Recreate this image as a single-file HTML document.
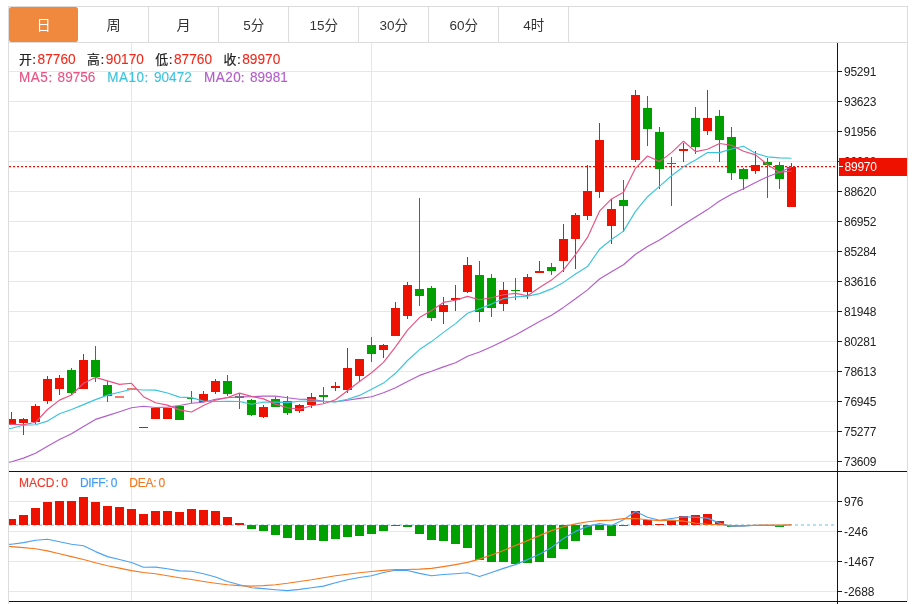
<!DOCTYPE html><html><head><meta charset="utf-8"><title>K线图</title><style>html,body{margin:0;padding:0;background:#fff}svg{display:block}text{font-family:"Liberation Sans","Noto Sans CJK SC",sans-serif}</style></head><body>
<svg width="913" height="604" viewBox="0 0 913 604">
<rect width="913" height="604" fill="#fff"/>
<rect x="8" y="6" width="900" height="1" fill="#dcdcdc"/>
<rect x="8" y="6" width="1" height="598" fill="#dcdcdc"/>
<rect x="907" y="6" width="1" height="595" fill="#dcdcdc"/>
<rect x="9" y="42" width="898" height="1" fill="#dcdcdc"/>
<rect x="9" y="7" width="69" height="35" rx="2.5" fill="#f0883e"/>
<rect x="148" y="7" width="1" height="35" fill="#dcdcdc"/>
<rect x="218" y="7" width="1" height="35" fill="#dcdcdc"/>
<rect x="288" y="7" width="1" height="35" fill="#dcdcdc"/>
<rect x="358" y="7" width="1" height="35" fill="#dcdcdc"/>
<rect x="428" y="7" width="1" height="35" fill="#dcdcdc"/>
<rect x="498" y="7" width="1" height="35" fill="#dcdcdc"/>
<rect x="568" y="7" width="1" height="35" fill="#dcdcdc"/>
<text x="43.7" y="29.8" font-size="14.2" text-anchor="middle" fill="#fff">日</text>
<text x="113.7" y="29.8" font-size="14.2" text-anchor="middle" fill="#333">周</text>
<text x="183.7" y="29.8" font-size="14.2" text-anchor="middle" fill="#333">月</text>
<text x="253.7" y="29.8" font-size="13.5" text-anchor="middle" fill="#333">5分</text>
<text x="323.7" y="29.8" font-size="13.5" text-anchor="middle" fill="#333">15分</text>
<text x="393.7" y="29.8" font-size="13.5" text-anchor="middle" fill="#333">30分</text>
<text x="463.7" y="29.8" font-size="13.5" text-anchor="middle" fill="#333">60分</text>
<text x="533.7" y="29.8" font-size="13.5" text-anchor="middle" fill="#333">4时</text>
<svg x="9" y="43" width="828" height="558" viewBox="9 43 828 558">
<rect x="9" y="71" width="828" height="1" fill="#dfe9f1"/>
<rect x="9" y="101" width="828" height="1" fill="#dfe9f1"/>
<rect x="9" y="131" width="828" height="1" fill="#dfe9f1"/>
<rect x="9" y="161" width="828" height="1" fill="#dfe9f1"/>
<rect x="9" y="191" width="828" height="1" fill="#dfe9f1"/>
<rect x="9" y="221" width="828" height="1" fill="#dfe9f1"/>
<rect x="9" y="251" width="828" height="1" fill="#dfe9f1"/>
<rect x="9" y="281" width="828" height="1" fill="#dfe9f1"/>
<rect x="9" y="311" width="828" height="1" fill="#dfe9f1"/>
<rect x="9" y="341" width="828" height="1" fill="#dfe9f1"/>
<rect x="9" y="371" width="828" height="1" fill="#dfe9f1"/>
<rect x="9" y="401" width="828" height="1" fill="#dfe9f1"/>
<rect x="9" y="431" width="828" height="1" fill="#dfe9f1"/>
<rect x="9" y="461" width="828" height="1" fill="#dfe9f1"/>
<rect x="9" y="501" width="828" height="1" fill="#dfe9f1"/>
<rect x="9" y="531" width="828" height="1" fill="#dfe9f1"/>
<rect x="9" y="561" width="828" height="1" fill="#dfe9f1"/>
<rect x="9" y="591" width="828" height="1" fill="#dfe9f1"/>
<rect x="131" y="43" width="1" height="558" fill="#dfe9f1"/>
<rect x="371" y="43" width="1" height="558" fill="#dfe9f1"/>
<line x1="9" y1="525" x2="836" y2="525" stroke="#b5dff2" stroke-width="2" stroke-dasharray="3 3"/>
<line x1="9" y1="166.6" x2="836" y2="166.6" stroke="#ee1100" stroke-width="1.2" stroke-dasharray="2 2"/>
<rect x="11" y="412" width="1" height="12" fill="#ee1100"/>
<rect x="7" y="419" width="9" height="5" fill="#ee1100"/>
<rect x="23" y="418" width="1" height="17" fill="#ee1100"/>
<rect x="19" y="419" width="9" height="4" fill="#ee1100"/>
<rect x="35" y="404" width="1" height="20" fill="#ee1100"/>
<rect x="31" y="406" width="9" height="16" fill="#ee1100"/>
<rect x="47" y="376" width="1" height="28" fill="#ee1100"/>
<rect x="43" y="379" width="9" height="22" fill="#ee1100"/>
<rect x="59" y="375" width="1" height="20" fill="#ee1100"/>
<rect x="55" y="378" width="9" height="11" fill="#ee1100"/>
<rect x="71" y="368" width="1" height="27" fill="#00a000"/>
<rect x="67" y="370" width="9" height="23" fill="#00a000"/>
<rect x="83" y="354" width="1" height="35" fill="#ee1100"/>
<rect x="79" y="360" width="9" height="29" fill="#ee1100"/>
<rect x="95" y="346" width="1" height="36" fill="#00a000"/>
<rect x="91" y="360" width="9" height="17" fill="#00a000"/>
<rect x="107" y="381" width="1" height="21" fill="#00a000"/>
<rect x="103" y="385" width="9" height="11" fill="#00a000"/>
<rect x="115" y="396" width="9" height="2" fill="#ee1100" fill-opacity=".55"/>
<rect x="127" y="388" width="9" height="2" fill="#ee1100" fill-opacity=".55"/>
<rect x="139" y="427" width="9" height="1" fill="#ee1100"/>
<rect x="151" y="408" width="9" height="11" fill="#ee1100"/>
<rect x="163" y="408" width="9" height="11" fill="#ee1100"/>
<rect x="175" y="406" width="9" height="14" fill="#00a000"/>
<rect x="191" y="391" width="1" height="12" fill="#00a000"/>
<rect x="187" y="398" width="9" height="1" fill="#00a000"/>
<rect x="203" y="391" width="1" height="11" fill="#ee1100"/>
<rect x="199" y="394" width="9" height="8" fill="#ee1100"/>
<rect x="215" y="379" width="1" height="15" fill="#ee1100"/>
<rect x="211" y="381" width="9" height="11" fill="#ee1100"/>
<rect x="227" y="375" width="1" height="21" fill="#00a000"/>
<rect x="223" y="381" width="9" height="13" fill="#00a000"/>
<rect x="239" y="393" width="1" height="16" fill="#00a000"/>
<rect x="235" y="396" width="9" height="2" fill="#00a000"/>
<rect x="251" y="399" width="1" height="17" fill="#00a000"/>
<rect x="247" y="400" width="9" height="15" fill="#00a000"/>
<rect x="263" y="405" width="1" height="13" fill="#ee1100"/>
<rect x="259" y="407" width="9" height="10" fill="#ee1100"/>
<rect x="275" y="397" width="1" height="10" fill="#00a000"/>
<rect x="271" y="399" width="9" height="8" fill="#00a000"/>
<rect x="287" y="396" width="1" height="19" fill="#00a000"/>
<rect x="283" y="401" width="9" height="12" fill="#00a000"/>
<rect x="299" y="404" width="1" height="9" fill="#ee1100"/>
<rect x="295" y="405" width="9" height="6" fill="#ee1100"/>
<rect x="311" y="393" width="1" height="15" fill="#ee1100"/>
<rect x="307" y="397" width="9" height="8" fill="#ee1100"/>
<rect x="323" y="387" width="1" height="16" fill="#00a000"/>
<rect x="319" y="395" width="9" height="2" fill="#00a000"/>
<rect x="335" y="382" width="1" height="9" fill="#ee1100"/>
<rect x="331" y="386" width="9" height="2" fill="#ee1100"/>
<rect x="347" y="348" width="1" height="45" fill="#ee1100"/>
<rect x="343" y="368" width="9" height="22" fill="#ee1100"/>
<rect x="359" y="359" width="1" height="23" fill="#ee1100"/>
<rect x="355" y="359" width="9" height="17" fill="#ee1100"/>
<rect x="371" y="337" width="1" height="25" fill="#00a000"/>
<rect x="367" y="345" width="9" height="9" fill="#00a000"/>
<rect x="383" y="344" width="1" height="14" fill="#ee1100"/>
<rect x="379" y="345" width="9" height="5" fill="#ee1100"/>
<rect x="395" y="302" width="1" height="34" fill="#ee1100"/>
<rect x="391" y="308" width="9" height="28" fill="#ee1100"/>
<rect x="407" y="282" width="1" height="37" fill="#ee1100"/>
<rect x="403" y="285" width="9" height="31" fill="#ee1100"/>
<rect x="419" y="198" width="1" height="108" fill="#00a000"/>
<rect x="415" y="289" width="9" height="7" fill="#00a000"/>
<rect x="431" y="286" width="1" height="35" fill="#00a000"/>
<rect x="427" y="288" width="9" height="30" fill="#00a000"/>
<rect x="443" y="297" width="1" height="27" fill="#ee1100"/>
<rect x="439" y="305" width="9" height="7" fill="#ee1100"/>
<rect x="455" y="285" width="1" height="26" fill="#ee1100"/>
<rect x="451" y="298" width="9" height="2" fill="#ee1100"/>
<rect x="467" y="257" width="1" height="36" fill="#ee1100"/>
<rect x="463" y="265" width="9" height="27" fill="#ee1100"/>
<rect x="479" y="261" width="1" height="61" fill="#00a000"/>
<rect x="475" y="275" width="9" height="37" fill="#00a000"/>
<rect x="491" y="274" width="1" height="43" fill="#00a000"/>
<rect x="487" y="278" width="9" height="30" fill="#00a000"/>
<rect x="503" y="282" width="1" height="29" fill="#ee1100"/>
<rect x="499" y="290" width="9" height="14" fill="#ee1100"/>
<rect x="515" y="278" width="1" height="22" fill="#00a000"/>
<rect x="511" y="290" width="9" height="1" fill="#00a000"/>
<rect x="527" y="274" width="1" height="25" fill="#ee1100"/>
<rect x="523" y="277" width="9" height="15" fill="#ee1100"/>
<rect x="539" y="261" width="1" height="12" fill="#ee1100"/>
<rect x="535" y="271" width="9" height="2" fill="#ee1100"/>
<rect x="551" y="263" width="1" height="12" fill="#00a000"/>
<rect x="547" y="267" width="9" height="4" fill="#00a000"/>
<rect x="563" y="224" width="1" height="48" fill="#ee1100"/>
<rect x="559" y="239" width="9" height="22" fill="#ee1100"/>
<rect x="575" y="213" width="1" height="56" fill="#ee1100"/>
<rect x="571" y="215" width="9" height="24" fill="#ee1100"/>
<rect x="587" y="165" width="1" height="55" fill="#ee1100"/>
<rect x="583" y="191" width="9" height="25" fill="#ee1100"/>
<rect x="599" y="123" width="1" height="75" fill="#ee1100"/>
<rect x="595" y="140" width="9" height="52" fill="#ee1100"/>
<rect x="611" y="199" width="1" height="45" fill="#ee1100"/>
<rect x="607" y="209" width="9" height="17" fill="#ee1100"/>
<rect x="623" y="180" width="1" height="52" fill="#00a000"/>
<rect x="619" y="200" width="9" height="6" fill="#00a000"/>
<rect x="635" y="90" width="1" height="72" fill="#ee1100"/>
<rect x="631" y="95" width="9" height="65" fill="#ee1100"/>
<rect x="647" y="96" width="1" height="50" fill="#00a000"/>
<rect x="643" y="108" width="9" height="21" fill="#00a000"/>
<rect x="659" y="127" width="1" height="62" fill="#00a000"/>
<rect x="655" y="132" width="9" height="37" fill="#00a000"/>
<rect x="671" y="157" width="1" height="49" fill="#00a000"/>
<rect x="667" y="163" width="9" height="1" fill="#00a000"/>
<rect x="683" y="143" width="1" height="19" fill="#ee1100"/>
<rect x="679" y="149" width="9" height="2" fill="#ee1100"/>
<rect x="695" y="107" width="1" height="47" fill="#00a000"/>
<rect x="691" y="118" width="9" height="29" fill="#00a000"/>
<rect x="707" y="90" width="1" height="45" fill="#ee1100"/>
<rect x="703" y="118" width="9" height="13" fill="#ee1100"/>
<rect x="719" y="110" width="1" height="52" fill="#00a000"/>
<rect x="715" y="116" width="9" height="24" fill="#00a000"/>
<rect x="731" y="127" width="1" height="53" fill="#00a000"/>
<rect x="727" y="137" width="9" height="36" fill="#00a000"/>
<rect x="743" y="168" width="1" height="22" fill="#00a000"/>
<rect x="739" y="169" width="9" height="10" fill="#00a000"/>
<rect x="755" y="151" width="1" height="23" fill="#ee1100"/>
<rect x="751" y="165" width="9" height="6" fill="#ee1100"/>
<rect x="767" y="158" width="1" height="40" fill="#00a000"/>
<rect x="763" y="162" width="9" height="3" fill="#00a000"/>
<rect x="779" y="162" width="1" height="27" fill="#00a000"/>
<rect x="775" y="165" width="9" height="14" fill="#00a000"/>
<rect x="791" y="163" width="1" height="44" fill="#ee1100"/>
<rect x="787" y="167" width="9" height="40" fill="#ee1100"/>
<rect x="7" y="519" width="9" height="6" fill="#ee1100"/>
<rect x="19" y="515" width="9" height="10" fill="#ee1100"/>
<rect x="31" y="508" width="9" height="17" fill="#ee1100"/>
<rect x="43" y="502" width="9" height="23" fill="#ee1100"/>
<rect x="55" y="501" width="9" height="24" fill="#ee1100"/>
<rect x="67" y="501" width="9" height="24" fill="#ee1100"/>
<rect x="79" y="497" width="9" height="28" fill="#ee1100"/>
<rect x="91" y="502" width="9" height="23" fill="#ee1100"/>
<rect x="103" y="506" width="9" height="19" fill="#ee1100"/>
<rect x="115" y="507" width="9" height="18" fill="#ee1100"/>
<rect x="127" y="509" width="9" height="16" fill="#ee1100"/>
<rect x="139" y="514" width="9" height="11" fill="#ee1100"/>
<rect x="151" y="511" width="9" height="14" fill="#ee1100"/>
<rect x="163" y="511" width="9" height="14" fill="#ee1100"/>
<rect x="175" y="512" width="9" height="13" fill="#ee1100"/>
<rect x="187" y="509" width="9" height="16" fill="#ee1100"/>
<rect x="199" y="510" width="9" height="15" fill="#ee1100"/>
<rect x="211" y="511" width="9" height="14" fill="#ee1100"/>
<rect x="223" y="517" width="9" height="8" fill="#ee1100"/>
<rect x="235" y="523" width="9" height="2" fill="#ee1100"/>
<rect x="247" y="525" width="9" height="4" fill="#00a000"/>
<rect x="259" y="525" width="9" height="6" fill="#00a000"/>
<rect x="271" y="525" width="9" height="10" fill="#00a000"/>
<rect x="283" y="525" width="9" height="13" fill="#00a000"/>
<rect x="295" y="525" width="9" height="15" fill="#00a000"/>
<rect x="307" y="525" width="9" height="15" fill="#00a000"/>
<rect x="319" y="525" width="9" height="16" fill="#00a000"/>
<rect x="331" y="525" width="9" height="14" fill="#00a000"/>
<rect x="343" y="525" width="9" height="12" fill="#00a000"/>
<rect x="355" y="525" width="9" height="11" fill="#00a000"/>
<rect x="367" y="525" width="9" height="9" fill="#00a000"/>
<rect x="379" y="525" width="9" height="6" fill="#00a000"/>
<rect x="391" y="525" width="9" height="1" fill="#00a000"/>
<rect x="403" y="525" width="9" height="2" fill="#00a000"/>
<rect x="415" y="525" width="9" height="9" fill="#00a000"/>
<rect x="427" y="525" width="9" height="15" fill="#00a000"/>
<rect x="439" y="525" width="9" height="16" fill="#00a000"/>
<rect x="451" y="525" width="9" height="19" fill="#00a000"/>
<rect x="463" y="525" width="9" height="23" fill="#00a000"/>
<rect x="475" y="525" width="9" height="35" fill="#00a000"/>
<rect x="487" y="525" width="9" height="37" fill="#00a000"/>
<rect x="499" y="525" width="9" height="37" fill="#00a000"/>
<rect x="511" y="525" width="9" height="39" fill="#00a000"/>
<rect x="523" y="525" width="9" height="38" fill="#00a000"/>
<rect x="535" y="525" width="9" height="37" fill="#00a000"/>
<rect x="547" y="525" width="9" height="33" fill="#00a000"/>
<rect x="559" y="525" width="9" height="24" fill="#00a000"/>
<rect x="571" y="525" width="9" height="16" fill="#00a000"/>
<rect x="583" y="525" width="9" height="10" fill="#00a000"/>
<rect x="595" y="525" width="9" height="5" fill="#00a000"/>
<rect x="607" y="525" width="9" height="11" fill="#00a000"/>
<rect x="619" y="525" width="9" height="1" fill="#00a000"/>
<rect x="631" y="511" width="9" height="14" fill="#ee1100"/>
<rect x="643" y="520" width="9" height="5" fill="#ee1100"/>
<rect x="655" y="524" width="9" height="1" fill="#ee1100"/>
<rect x="667" y="521" width="9" height="4" fill="#ee1100"/>
<rect x="679" y="516" width="9" height="9" fill="#ee1100"/>
<rect x="691" y="515" width="9" height="10" fill="#ee1100"/>
<rect x="703" y="514" width="9" height="11" fill="#ee1100"/>
<rect x="715" y="521" width="9" height="4" fill="#ee1100"/>
<rect x="727" y="525" width="9" height="2" fill="#00a000"/>
<rect x="739" y="525" width="9" height="1" fill="#00a000"/>
<rect x="775" y="525" width="9" height="2" fill="#00a000"/>
<polyline fill="none" stroke="#b45ccc" stroke-width="1.15" stroke-linejoin="round" points="9,462.3 11.5,461.8 23.5,458.1 35.5,453.3 47.5,446.2 59.5,439.6 71.5,433.8 83.5,426.4 95.5,419.4 107.5,415.6 119.5,411.8 131.5,407.8 143.5,406.2 155.5,407.5 167.5,407.1 179.5,405.5 191.5,403.3 203.5,402.2 215.5,399.3 227.5,397.7 239.5,396.9 251.5,396.7 263.5,396.1 275.5,396.1 287.5,397.8 299.5,399.2 311.5,399.4 323.5,401.2 335.5,401.7 347.5,400.3 359.5,398.4 371.5,396.7 383.5,392.7 395.5,387.7 407.5,381.6 419.5,375.4 431.5,371.3 443.5,366.9 455.5,362.8 467.5,356.3 479.5,352.0 491.5,346.7 503.5,340.9 515.5,335.1 527.5,328.3 539.5,321.6 551.5,315.3 563.5,307.4 575.5,298.8 587.5,289.9 599.5,279.0 611.5,271.8 623.5,264.8 635.5,254.2 647.5,246.4 659.5,240.0 671.5,232.3 683.5,224.5 695.5,217.0 707.5,209.6 719.5,201.0 731.5,194.2 743.5,188.7 755.5,182.4 767.5,176.8 779.5,172.2 791.5,167.0"/>
<polyline fill="none" stroke="#3cc4de" stroke-width="1.15" stroke-linejoin="round" points="9,428.6 11.5,428.2 23.5,425.3 35.5,424.8 47.5,421.1 59.5,413.7 71.5,409.5 83.5,404.6 95.5,399.6 107.5,395.1 119.5,392.2 131.5,389.2 143.5,390.0 155.5,390.1 167.5,393.0 179.5,397.1 191.5,397.6 203.5,401.1 215.5,401.5 227.5,401.3 239.5,401.5 251.5,404.2 263.5,402.2 275.5,402.1 287.5,402.6 299.5,401.2 311.5,401.1 323.5,401.4 335.5,401.9 347.5,399.3 359.5,395.4 371.5,389.3 383.5,383.1 395.5,373.3 407.5,360.5 419.5,349.6 431.5,341.6 443.5,332.4 455.5,323.6 467.5,313.3 479.5,308.7 491.5,304.1 503.5,298.6 515.5,296.9 527.5,296.1 539.5,293.6 551.5,288.9 563.5,282.4 575.5,274.0 587.5,266.6 599.5,249.3 611.5,239.5 623.5,231.1 635.5,211.4 647.5,196.7 659.5,186.4 671.5,175.8 683.5,166.7 695.5,160.0 707.5,152.6 719.5,152.6 731.5,149.0 743.5,146.2 755.5,153.3 767.5,156.9 779.5,157.9 791.5,158.2"/>
<polyline fill="none" stroke="#ea5283" stroke-width="1.15" stroke-linejoin="round" points="9,424.4 11.5,424.4 23.5,424.8 35.5,422.3 47.5,409.5 59.5,400.1 71.5,395.0 83.5,383.3 95.5,377.4 107.5,380.9 119.5,384.4 131.5,383.3 143.5,396.7 155.5,402.8 167.5,405.1 179.5,409.9 191.5,412.0 203.5,405.5 215.5,400.1 227.5,397.5 239.5,393.1 251.5,396.4 263.5,398.9 275.5,404.1 287.5,407.8 299.5,409.3 311.5,405.8 323.5,403.8 335.5,399.8 347.5,390.8 359.5,381.5 371.5,372.8 383.5,362.4 395.5,346.8 407.5,330.2 419.5,317.6 431.5,310.5 443.5,302.4 455.5,300.3 467.5,296.4 479.5,299.7 491.5,297.8 503.5,294.8 515.5,293.4 527.5,295.8 539.5,287.5 551.5,280.1 563.5,269.9 575.5,254.6 587.5,237.4 599.5,211.2 611.5,198.9 623.5,192.2 635.5,168.3 647.5,156.0 659.5,161.6 671.5,152.6 683.5,141.2 695.5,151.6 707.5,149.3 719.5,143.5 731.5,145.3 743.5,151.3 755.5,154.9 767.5,164.5 779.5,172.4 791.5,171.0"/>
<polyline fill="none" stroke="#4aa3f2" stroke-width="1.15" stroke-linejoin="round" points="9,544.4 11.5,544.2 23.5,542.6 35.5,540.2 47.5,539.2 59.5,541.7 71.5,544.3 83.5,545.8 95.5,551.6 107.5,556.6 119.5,559.5 131.5,562.5 143.5,567.2 155.5,567.1 167.5,568.7 179.5,570.9 191.5,571.2 203.5,573.7 215.5,577.0 227.5,581.5 239.5,584.8 251.5,587.7 263.5,588.6 275.5,589.7 287.5,590.6 299.5,589.4 311.5,587.7 323.5,586.1 335.5,582.8 347.5,579.8 359.5,577.5 371.5,575.7 383.5,572.5 395.5,570.2 407.5,570.5 419.5,573.4 431.5,575.7 443.5,574.5 455.5,573.7 467.5,572.8 479.5,576.5 491.5,572.5 503.5,568.4 515.5,564.6 527.5,559.6 539.5,554.3 551.5,547.5 563.5,538.5 575.5,531.4 587.5,526.4 599.5,523.6 611.5,525.6 623.5,519.8 635.5,511.5 647.5,517.3 659.5,520.3 671.5,518.5 683.5,516.8 695.5,517.3 707.5,518.1 719.5,523.1 731.5,526.4 743.5,526.1 755.5,525.3 767.5,525.3 779.5,525.6 791.5,524.8"/>
<polyline fill="none" stroke="#f6791f" stroke-width="1.15" stroke-linejoin="round" points="9,546.5 11.5,546.6 23.5,547.6 35.5,548.8 47.5,550.9 59.5,553.7 71.5,556.6 83.5,559.5 95.5,562.8 107.5,565.8 119.5,568.1 131.5,570.6 143.5,572.5 155.5,573.7 167.5,575.8 179.5,577.8 191.5,579.5 203.5,581.5 215.5,583.3 227.5,584.8 239.5,585.6 251.5,586.1 263.5,585.6 275.5,584.8 287.5,583.3 299.5,581.5 311.5,579.8 323.5,577.8 335.5,575.8 347.5,574.2 359.5,572.8 371.5,571.5 383.5,570.4 395.5,569.5 407.5,569.5 419.5,569.1 431.5,568.4 443.5,566.6 455.5,564.6 467.5,562.4 479.5,559.1 491.5,555.0 503.5,550.5 515.5,545.5 527.5,540.6 539.5,535.6 551.5,530.6 563.5,526.8 575.5,523.9 587.5,521.8 599.5,520.6 611.5,520.1 623.5,518.6 635.5,518.5 647.5,519.8 659.5,520.6 671.5,520.1 683.5,521.1 695.5,523.3 707.5,524.3 719.5,524.8 731.5,525.6 743.5,525.6 755.5,525.3 767.5,525.1 779.5,525.1 791.5,524.8"/>
</svg>
<rect x="837" y="43" width="1" height="561" fill="#151515"/>
<rect x="9" y="471" width="898" height="1" fill="#151515"/>
<rect x="9" y="601" width="898" height="1" fill="#151515"/>
<rect x="838" y="71" width="4" height="1" fill="#151515"/>
<text transform="translate(844 75.9) scale(1 1.04)" font-size="12" letter-spacing="-0.25" fill="#222">95291</text>
<rect x="838" y="101" width="4" height="1" fill="#151515"/>
<text transform="translate(844 105.9) scale(1 1.04)" font-size="12" letter-spacing="-0.25" fill="#222">93623</text>
<rect x="838" y="131" width="4" height="1" fill="#151515"/>
<text transform="translate(844 135.9) scale(1 1.04)" font-size="12" letter-spacing="-0.25" fill="#222">91956</text>
<rect x="838" y="161" width="4" height="1" fill="#151515"/>
<text transform="translate(844 165.9) scale(1 1.04)" font-size="12" letter-spacing="-0.25" fill="#222">90288</text>
<rect x="838" y="191" width="4" height="1" fill="#151515"/>
<text transform="translate(844 195.9) scale(1 1.04)" font-size="12" letter-spacing="-0.25" fill="#222">88620</text>
<rect x="838" y="221" width="4" height="1" fill="#151515"/>
<text transform="translate(844 225.9) scale(1 1.04)" font-size="12" letter-spacing="-0.25" fill="#222">86952</text>
<rect x="838" y="251" width="4" height="1" fill="#151515"/>
<text transform="translate(844 255.9) scale(1 1.04)" font-size="12" letter-spacing="-0.25" fill="#222">85284</text>
<rect x="838" y="281" width="4" height="1" fill="#151515"/>
<text transform="translate(844 285.9) scale(1 1.04)" font-size="12" letter-spacing="-0.25" fill="#222">83616</text>
<rect x="838" y="311" width="4" height="1" fill="#151515"/>
<text transform="translate(844 315.9) scale(1 1.04)" font-size="12" letter-spacing="-0.25" fill="#222">81948</text>
<rect x="838" y="341" width="4" height="1" fill="#151515"/>
<text transform="translate(844 345.9) scale(1 1.04)" font-size="12" letter-spacing="-0.25" fill="#222">80281</text>
<rect x="838" y="371" width="4" height="1" fill="#151515"/>
<text transform="translate(844 375.9) scale(1 1.04)" font-size="12" letter-spacing="-0.25" fill="#222">78613</text>
<rect x="838" y="401" width="4" height="1" fill="#151515"/>
<text transform="translate(844 405.9) scale(1 1.04)" font-size="12" letter-spacing="-0.25" fill="#222">76945</text>
<rect x="838" y="431" width="4" height="1" fill="#151515"/>
<text transform="translate(844 435.9) scale(1 1.04)" font-size="12" letter-spacing="-0.25" fill="#222">75277</text>
<rect x="838" y="461" width="4" height="1" fill="#151515"/>
<text transform="translate(844 465.9) scale(1 1.04)" font-size="12" letter-spacing="-0.25" fill="#222">73609</text>
<rect x="838" y="501" width="4" height="1" fill="#151515"/>
<text transform="translate(844 505.9) scale(1 1.04)" font-size="12" letter-spacing="-0.25" fill="#222">976</text>
<rect x="838" y="531" width="4" height="1" fill="#151515"/>
<text transform="translate(844 535.9) scale(1 1.04)" font-size="12" letter-spacing="-0.05" fill="#222">-246</text>
<rect x="838" y="561" width="4" height="1" fill="#151515"/>
<text transform="translate(844 565.9) scale(1 1.04)" font-size="12" letter-spacing="-0.05" fill="#222">-1467</text>
<rect x="838" y="591" width="4" height="1" fill="#151515"/>
<text transform="translate(844 595.9) scale(1 1.04)" font-size="12" letter-spacing="-0.05" fill="#222">-2688</text>
<rect x="839" y="158" width="68" height="18" fill="#ee1100"/>
<rect x="839" y="166" width="4" height="1" fill="#fff"/>
<text transform="translate(844.6 171) scale(1 1.04)" font-size="12" letter-spacing="-0.25" fill="#fff">89970</text>
<text transform="translate(18.9 63.5) scale(1 1)" font-size="12.9" fill="#222" stroke="#222" stroke-width="0.2">开</text>
<text transform="translate(32.3 64.2) scale(1 1)" font-size="13.7" fill="#222" stroke="#222" stroke-width="0.15">:</text>
<text transform="translate(37.6 63.7) scale(1 1.09)" font-size="13.7" fill="#f2281a" stroke="#f2281a" stroke-width="0.1">87760</text>
<text transform="translate(87.1 63.5) scale(1 1)" font-size="12.9" fill="#222" stroke="#222" stroke-width="0.2">高</text>
<text transform="translate(100.5 64.2) scale(1 1)" font-size="13.7" fill="#222" stroke="#222" stroke-width="0.15">:</text>
<text transform="translate(105.8 63.7) scale(1 1.09)" font-size="13.7" fill="#f2281a" stroke="#f2281a" stroke-width="0.1">90170</text>
<text transform="translate(155.3 63.5) scale(1 1)" font-size="12.9" fill="#222" stroke="#222" stroke-width="0.2">低</text>
<text transform="translate(168.7 64.2) scale(1 1)" font-size="13.7" fill="#222" stroke="#222" stroke-width="0.15">:</text>
<text transform="translate(174.0 63.7) scale(1 1.09)" font-size="13.7" fill="#f2281a" stroke="#f2281a" stroke-width="0.1">87760</text>
<text transform="translate(223.5 63.5) scale(1 1)" font-size="12.9" fill="#222" stroke="#222" stroke-width="0.2">收</text>
<text transform="translate(236.9 64.2) scale(1 1)" font-size="13.7" fill="#222" stroke="#222" stroke-width="0.15">:</text>
<text transform="translate(242.2 63.7) scale(1 1.09)" font-size="13.7" fill="#f2281a" stroke="#f2281a" stroke-width="0.1">89970</text>
<text transform="translate(19.0 81.6) scale(1 1.05)" font-size="13.5" fill="#ea5283" stroke="#ea5283" stroke-width="0.15" letter-spacing="0.5">MA5</text>
<text transform="translate(48.6 81.6) scale(1 1)" font-size="13.5" fill="#ea5283" stroke="#ea5283" stroke-width="0.25">:</text>
<text transform="translate(57.6 81.6) scale(1 1.07)" font-size="13.6" fill="#ea5283" stroke="#ea5283" stroke-width="0.1">89756</text>
<text transform="translate(107.3 81.6) scale(1 1.05)" font-size="13.5" fill="#3cc4de" stroke="#3cc4de" stroke-width="0.15" letter-spacing="0.5">MA10</text>
<text transform="translate(144.6 81.6) scale(1 1)" font-size="13.5" fill="#3cc4de" stroke="#3cc4de" stroke-width="0.25">:</text>
<text transform="translate(154.0 81.6) scale(1 1.07)" font-size="13.6" fill="#3cc4de" stroke="#3cc4de" stroke-width="0.1">90472</text>
<text transform="translate(204.0 81.6) scale(1 1.05)" font-size="13.5" fill="#b45ccc" stroke="#b45ccc" stroke-width="0.15" letter-spacing="0.5">MA20</text>
<text transform="translate(240.8 81.6) scale(1 1)" font-size="13.5" fill="#b45ccc" stroke="#b45ccc" stroke-width="0.25">:</text>
<text transform="translate(250.0 81.6) scale(1 1.07)" font-size="13.6" fill="#b45ccc" stroke="#b45ccc" stroke-width="0.1">89981</text>
<text transform="translate(18.9 487.0) scale(1 1)" font-size="12" fill="#f0392b" stroke="#f0392b" stroke-width="0.15" letter-spacing="0.1">MACD</text>
<text transform="translate(55.8 487.0) scale(1 1)" font-size="12" fill="#f0392b" stroke="#f0392b" stroke-width="0.15">:</text>
<text transform="translate(61.3 487.0) scale(1 1)" font-size="12" fill="#f0392b" stroke="#f0392b" stroke-width="0.15">0</text>
<text transform="translate(79.9 487.0) scale(1 1)" font-size="12" fill="#3f9cf5" stroke="#3f9cf5" stroke-width="0.15" letter-spacing="-0.3">DIFF</text>
<text transform="translate(105.2 487.0) scale(1 1)" font-size="12" fill="#3f9cf5" stroke="#3f9cf5" stroke-width="0.15">:</text>
<text transform="translate(110.7 487.0) scale(1 1)" font-size="12" fill="#3f9cf5" stroke="#3f9cf5" stroke-width="0.15">0</text>
<text transform="translate(129.2 487.0) scale(1 1)" font-size="12" fill="#f5781e" stroke="#f5781e" stroke-width="0.15" letter-spacing="-0.2">DEA</text>
<text transform="translate(153.2 487.0) scale(1 1)" font-size="12" fill="#f5781e" stroke="#f5781e" stroke-width="0.15">:</text>
<text transform="translate(158.5 487.0) scale(1 1)" font-size="12" fill="#f5781e" stroke="#f5781e" stroke-width="0.15">0</text>
</svg></body></html>
